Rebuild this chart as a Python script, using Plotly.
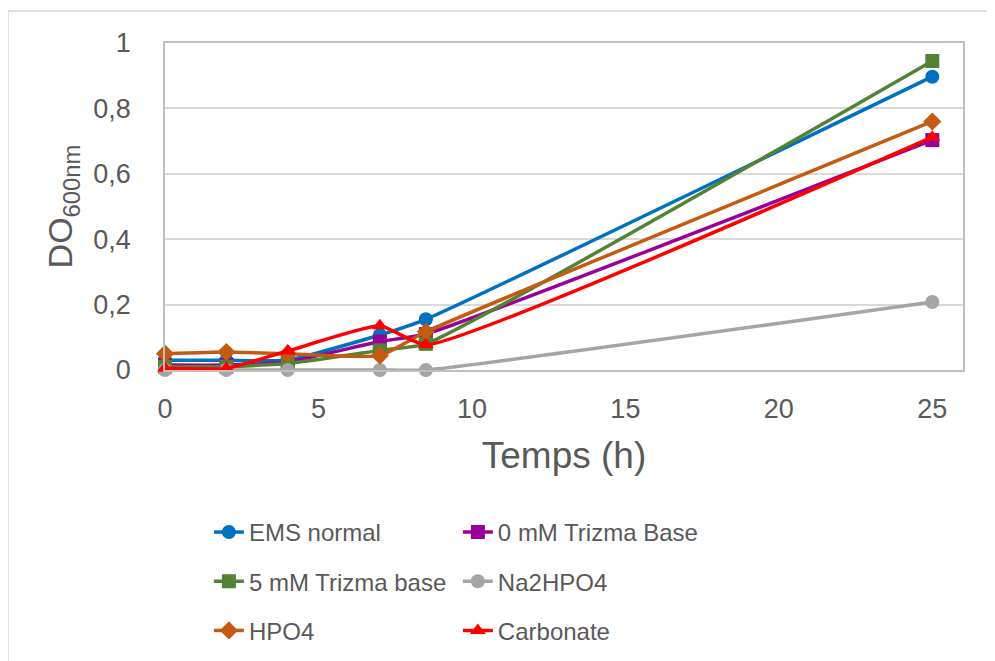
import plotly.graph_objects as go

# Temps (h)
temps = [0, 2, 4, 7, 8.5, 25]

# DO600nm per condition
ems_normal = [0.030, 0.030, 0.030, 0.107, 0.155, 0.897]
trizma_0mm = [0.015, 0.015, 0.025, 0.087, 0.110, 0.703]
trizma_5mm = [0.010, 0.010, 0.020, 0.060, 0.080, 0.945]
na2hpo4 = [0.000, 0.000, 0.000, 0.000, 0.000, 0.208]
hpo4 = [0.050, 0.055, 0.050, 0.044, 0.117, 0.760]
carbonate = [0.005, 0.005, 0.058, 0.135, 0.077, 0.712]

series = [
    ("EMS normal", ems_normal, "#0070C0", "circle", "legend"),
    ("0 mM Trizma Base", trizma_0mm, "#990099", "square", "legend2"),
    ("5 mM Trizma base", trizma_5mm, "#548235", "square", "legend"),
    ("Na2HPO4", na2hpo4, "#A5A5A5", "circle", "legend2"),
    ("HPO4", hpo4, "#C55A11", "diamond", "legend"),
    ("Carbonate", carbonate, "#FF0000", "triangle-up", "legend2"),
]

fig = go.Figure()
for name, vals, color, symbol, leg in series:
    fig.add_trace(go.Scatter(
        x=temps, y=vals, name=name, mode="lines+markers",
        line=dict(color=color, width=3.5, shape="spline", smoothing=0.45),
        marker=dict(color=color, symbol=symbol, size=14),
        legend=leg, legendgroup=name, cliponaxis=False,
    ))

legend_style = dict(
    orientation="v", yanchor="top", xanchor="left", y=-0.428,
    font=dict(size=24, color="#595959"), tracegroupgap=15,
    bgcolor="rgba(0,0,0,0)",
)

fig.update_layout(
    width=995, height=661,
    margin=dict(l=157, r=40, t=35, b=299, autoexpand=False),
    paper_bgcolor="white", plot_bgcolor="white",
    separators=", ",
    font=dict(family="Liberation Sans, Arial, sans-serif", color="#595959"),
    legend=dict(x=0.055, **legend_style),
    legend2=dict(x=0.367, **legend_style),
    xaxis=dict(
        range=[0, 26], tickvals=[0, 5, 10, 15, 20, 25],
        showgrid=False, zeroline=False, automargin=False,
        showline=True, linecolor="#bfbfbf", linewidth=1.5, mirror=True,
        tickfont=dict(size=27, color="#595959"), ticklabelstandoff=14,
        title=dict(text="Temps (h)", font=dict(size=37, color="#595959"), standoff=19),
    ),
    yaxis=dict(
        range=[0, 1], tickvals=[0, 0.2, 0.4, 0.6, 0.8, 1],
        showgrid=True, gridcolor="#d9d9d9", gridwidth=1.5, zeroline=False, automargin=False,
        showline=True, linecolor="#bfbfbf", linewidth=1.5, mirror=True,
        tickfont=dict(size=27, color="#595959"), ticklabelstandoff=27,
        title=dict(text="DO<sub>600nm</sub>", font=dict(size=34, color="#595959"), standoff=10),
    ),
)

# chart area border (top and left edges visible)
fig.add_shape(type="line", xref="paper", yref="paper",
              x0=-0.1967, x1=1.06, y0=1.098, y1=1.098,
              line=dict(color="#d9d9d9", width=1.5))
fig.add_shape(type="line", xref="paper", yref="paper",
              x0=-0.1967, x1=-0.1967, y0=1.098, y1=-0.95,
              line=dict(color="#d9d9d9", width=1.5))

fig.write_html("out.html")
